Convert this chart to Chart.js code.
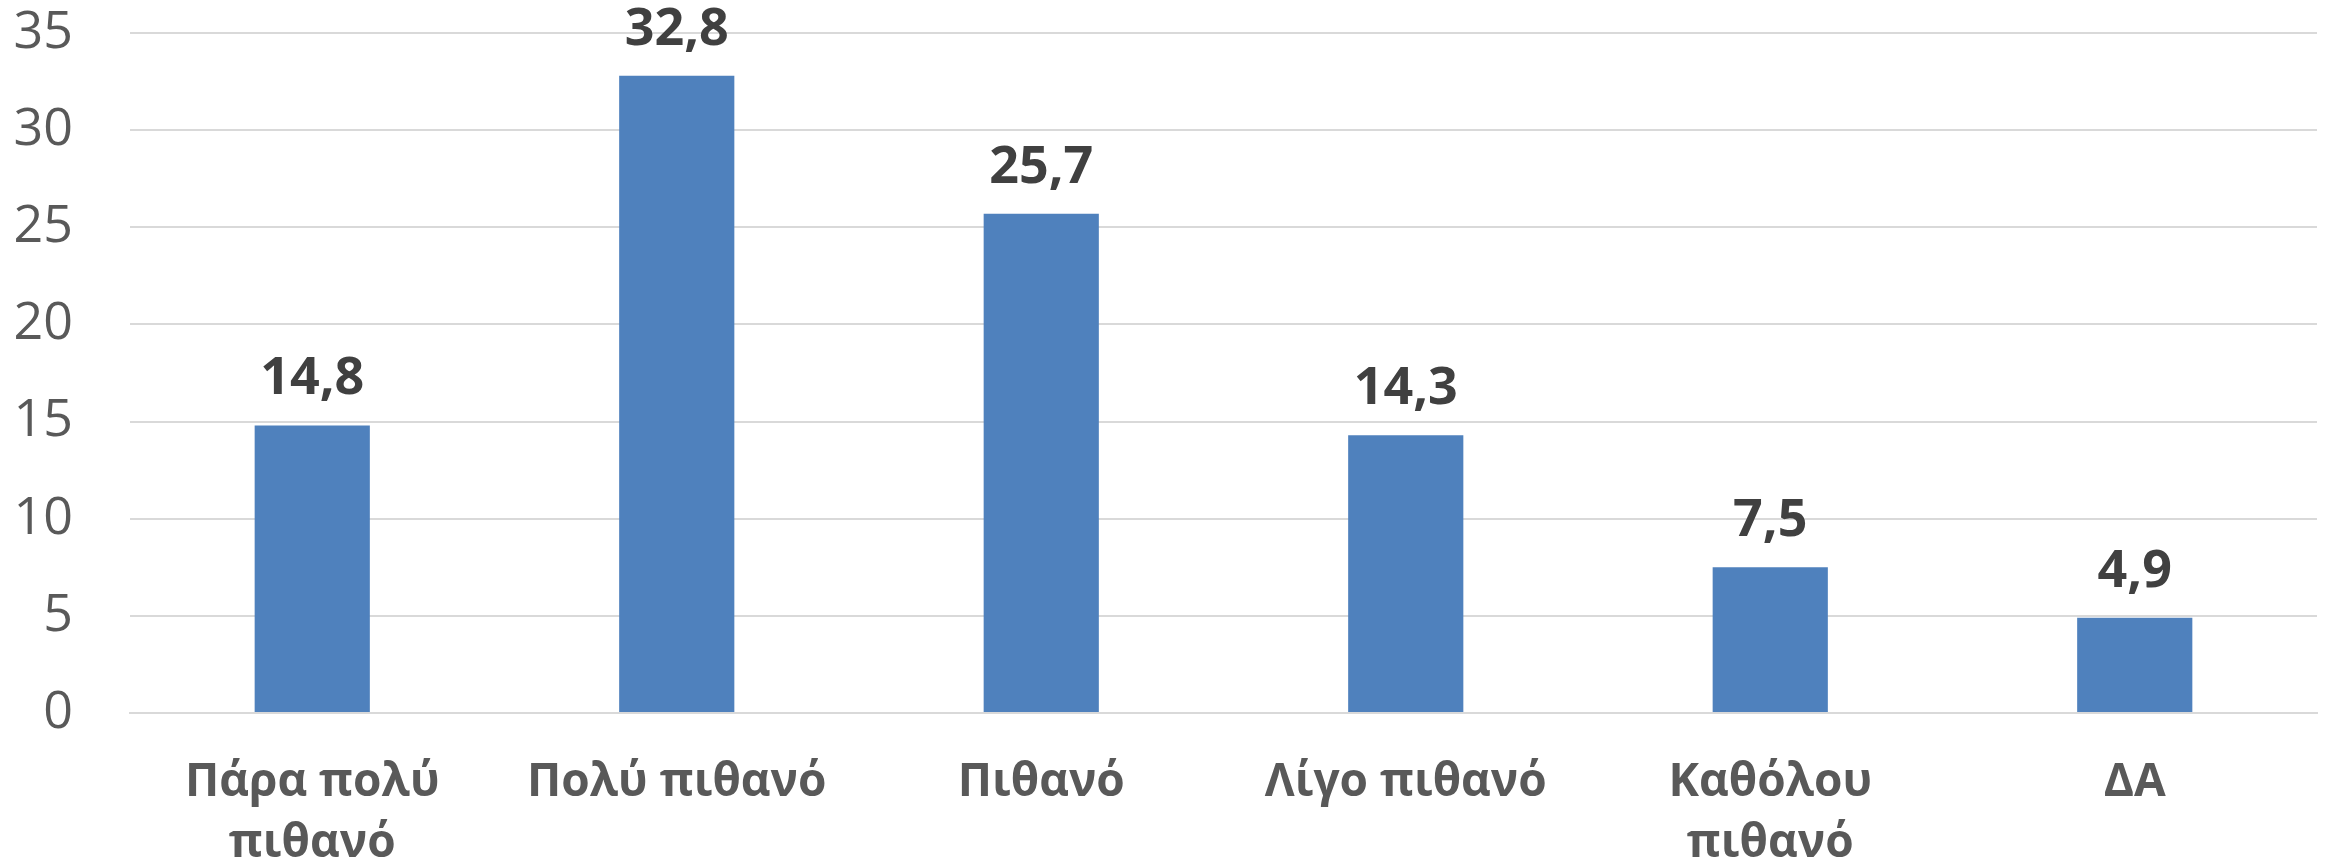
<!DOCTYPE html>
<html>
<head>
<meta charset="utf-8">
<script src="https://cdn.jsdelivr.net/npm/chart.js@4"></script>
<style>
  html, body { margin: 0; padding: 0; background: #fff; }
  #wrap { width: 2326px; height: 868px; }
</style>
</head>
<body>
<div id="wrap"><canvas id="chart" width="2326" height="868"></canvas></div>
<script>
var categories = [
  ['Πάρα πολύ', 'πιθανό'],
  'Πολύ πιθανό',
  'Πιθανό',
  'Λίγο πιθανό',
  ['Καθόλου', 'πιθανό'],
  'ΔΑ'
];
var values = [14.8, 32.8, 25.7, 14.3, 7.5, 4.9];
var yTicks = [0, 5, 10, 15, 20, 25, 30, 35];

var fontFamily = '"Open Sans", "Noto Sans", sans-serif';

// draws the value above each bar, with a decimal comma
var valueLabels = {
  id: 'valueLabels',
  afterDatasetsDraw: function(chart) {
    var ctx = chart.ctx;
    var meta = chart.getDatasetMeta(0);
    ctx.save();
    ctx.font = 'bold 52px ' + fontFamily;
    ctx.fillStyle = '#404040';
    ctx.textAlign = 'center';
    ctx.textBaseline = 'alphabetic';
    meta.data.forEach(function(bar, i) {
      ctx.fillText(values[i].toFixed(1).replace('.', ','), bar.x, bar.y - 31);
    });
    ctx.restore();
  }
};

var ctx = document.getElementById('chart').getContext('2d');
var chart = new Chart(ctx, {
  type: 'bar',
  data: {
    labels: categories,
    datasets: [{
      data: values,
      backgroundColor: '#4f81bd',
      borderWidth: 0,
      categoryPercentage: 1,
      barPercentage: 0.316
    }]
  },
  options: {
    responsive: false,
    animation: false,
    layout: { padding: { top: 33, right: 9, left: 0, bottom: 0 } },
    plugins: {
      legend: { display: false },
      tooltip: { enabled: false }
    },
    scales: {
      x: {
        grid: { display: false, drawTicks: false },
        border: { display: true, color: '#d9d9d9', width: 2 },
        ticks: {
          color: '#595959',
          padding: 40,
          maxRotation: 0,
          autoSkip: false,
          font: { family: fontFamily, size: 46, weight: 'bold', lineHeight: 1.32 }
        },
        afterFit: function(scale) {
          scale.height = 155;
          scale.paddingLeft = 0;
          scale.paddingRight = 0;
        }
      },
      y: {
        min: 0,
        max: 35,
        afterBuildTicks: function(scale) {
          scale.ticks = yTicks.map(function(v) { return { value: v }; });
        },
        grid: { color: '#d9d9d9', lineWidth: 2, drawTicks: false },
        border: { display: false },
        ticks: {
          color: '#595959',
          padding: 57,
          font: { family: fontFamily, size: 52 }
        },
        afterFit: function(scale) {
          scale.width = 130;
          scale.paddingTop = 0;
          scale.paddingBottom = 0;
        }
      }
    }
  },
  plugins: [valueLabels]
});
</script>
</body>
</html>
